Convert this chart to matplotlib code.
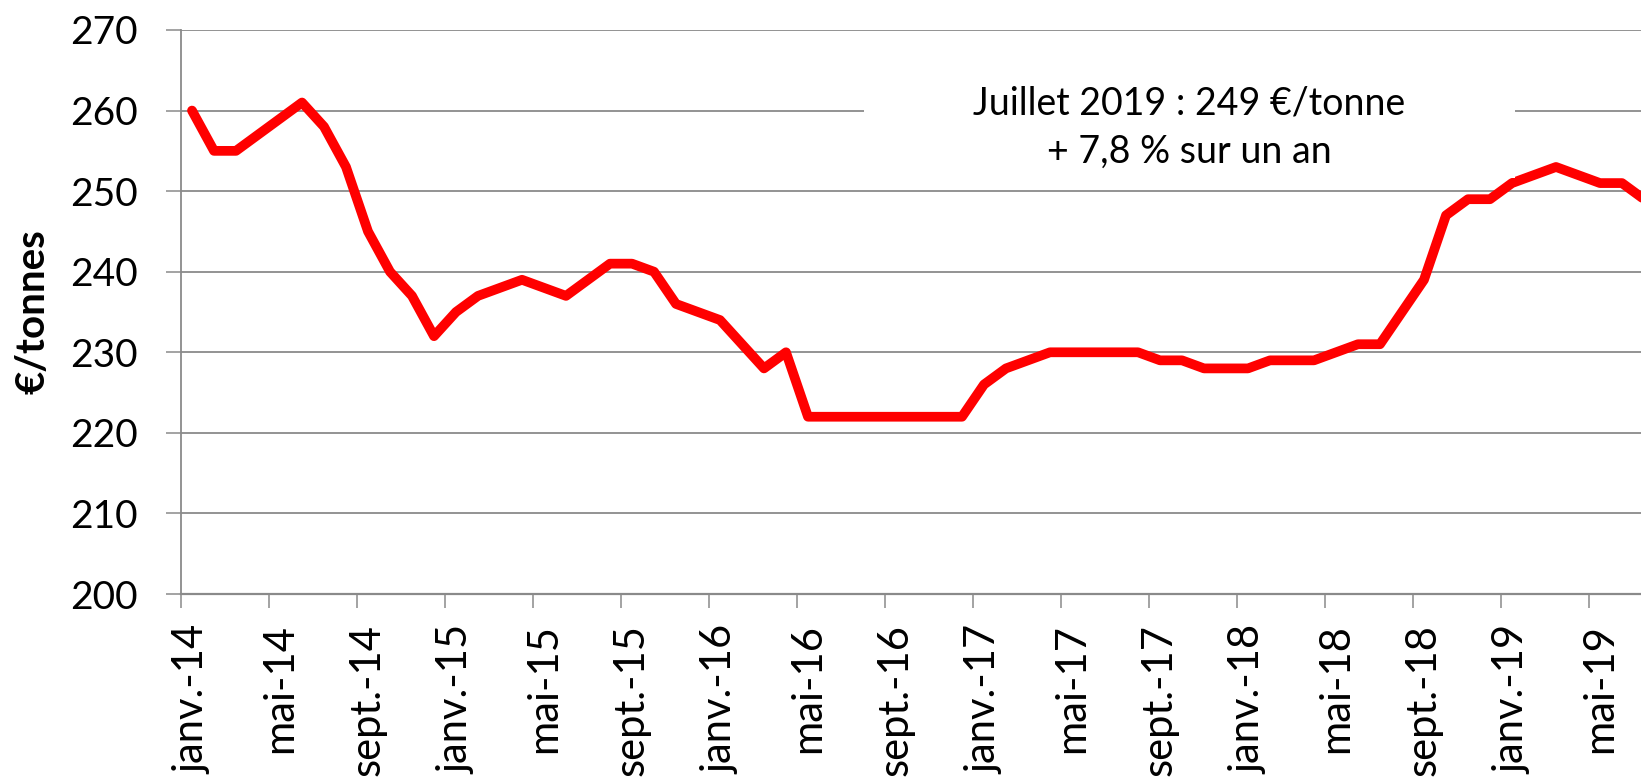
import matplotlib
matplotlib.use("Agg")
import matplotlib.pyplot as plt
from matplotlib.patches import Rectangle
from matplotlib.ticker import FixedLocator

# ---- data (monthly, janv.-14 .. juil.-19) ----
prices = [260, 255, 255, 257, 259, 261, 258, 253, 245, 240, 237, 232,   # 2014
          235, 237, 238, 239, 238, 237, 239, 241, 241, 240, 236, 235,   # 2015
          234, 231, 228, 230, 222, 222, 222, 222, 222, 222, 222, 222,   # 2016
          226, 228, 229, 230, 230, 230, 230, 230, 229, 229, 228, 228,   # 2017
          228, 229, 229, 229, 230, 231, 231, 235, 239, 247, 249, 249,   # 2018
          251, 252, 253, 252, 251, 251, 249]                            # 2019
tick_labels = ["janv.-14", "mai-14", "sept.-14",
               "janv.-15", "mai-15", "sept.-15",
               "janv.-16", "mai-16", "sept.-16",
               "janv.-17", "mai-17", "sept.-17",
               "janv.-18", "mai-18", "sept.-18",
               "janv.-19", "mai-19"]
y_ticks = [200, 210, 220, 230, 240, 250, 260, 270]
y_label = "€/tonnes"
note = "Juillet 2019 : 249 €/tonne\n+ 7,8 % sur un an"

FONT = ["Lato", "DejaVu Sans"]
plt.rcParams["font.family"] = FONT

W, H = 1641, 777
fig = plt.figure(figsize=(W / 100, H / 100), dpi=100)
ax_left, ax_top, ax_bottom = 181, 30, 594
ax = fig.add_axes([ax_left / W, 1 - ax_bottom / H, 1 - ax_left / W, (ax_bottom - ax_top) / H])

months = list(range(len(prices)))
ax.plot(months, prices, color="#FF0000", lw=7.0, solid_joinstyle="round",
        solid_capstyle="round", zorder=3)

px_per_month = 22.0
ax.set_xlim(-0.5, -0.5 + (W - ax_left) / px_per_month)
ax.set_ylim(y_ticks[0], y_ticks[-1])

grey = "#8a8a8a"
ax.set_yticks(y_ticks)
ax.yaxis.grid(True, color=grey, lw=1.3)
ax.set_axisbelow(True)
ax.tick_params(axis="y", length=10.8, width=1.1, color=grey, pad=20,
               labelsize=28, labelcolor="black")

# x: ticks at category boundaries, labels at category centres
label_pos = [4 * k for k in range(len(tick_labels))]
ax.xaxis.set_major_locator(FixedLocator([p - 0.5 for p in label_pos]))
ax.xaxis.set_major_formatter(plt.NullFormatter())
ax.xaxis.set_minor_locator(FixedLocator(label_pos))
ax.set_xticklabels(tick_labels, minor=True, rotation=90, fontsize=30,
                   va="top", ha="center")
ax.tick_params(axis="x", which="major", length=10, width=1.1, color=grey)
ax.tick_params(axis="x", which="minor", length=0, pad=22)

for s in ["top", "right"]:
    ax.spines[s].set_visible(False)
ax.spines["left"].set_color(grey)
ax.spines["left"].set_linewidth(1.3)
ax.spines["bottom"].set_color(grey)
ax.spines["bottom"].set_linewidth(1.6)

# annotation box (white background hiding the grid) and text
bx0, bx1, by0, by1 = 864, 1515, 48, 178
fig.patches.append(Rectangle((bx0 / W, 1 - by1 / H), (bx1 - bx0) / W, (by1 - by0) / H,
                             transform=fig.transFigure, facecolor="white",
                             edgecolor="none", zorder=1.5))
fig.text(1189 / W, 1 - 128 / H, note, ha="center", va="center", fontsize=27,
         linespacing=1.42, zorder=5)

fig.text(33 / W, 1 - 312 / H, y_label, rotation=90, ha="center", va="center",
         fontsize=29, fontweight="bold")

fig.savefig("out.png", dpi=100)
